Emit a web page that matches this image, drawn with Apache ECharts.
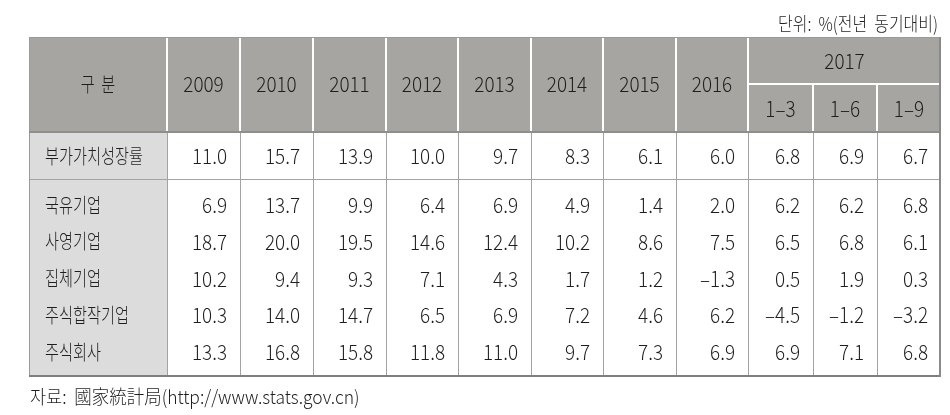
<!DOCTYPE html>
<html>
<head>
<meta charset="utf-8">
<script src="https://cdn.jsdelivr.net/npm/echarts@6/dist/echarts.min.js"></script>
<style>
html, body { margin: 0; background: #fff; }
#chart { width: 950px; height: 415px; }
</style>
</head>
<body>
<div id="chart"></div>
<script>
// 표 데이터
var years = ['2009', '2010', '2011', '2012', '2013', '2014', '2015', '2016']
var quarterYear = '2017'
var quarters = ['1–3', '1–6', '1–9']
var rowNames = ['부가가치성장률', '국유기업', '사영기업', '집체기업', '주식합작기업', '주식회사']
var growth = [11.0, 15.7, 13.9, 10.0, 9.7, 8.3, 6.1, 6.0, 6.8, 6.9, 6.7]
var stateOwned = [6.9, 13.7, 9.9, 6.4, 6.9, 4.9, 1.4, 2.0, 6.2, 6.2, 6.8]
var privateEnt = [18.7, 20.0, 19.5, 14.6, 12.4, 10.2, 8.6, 7.5, 6.5, 6.8, 6.1]
var collective = [10.2, 9.4, 9.3, 7.1, 4.3, 1.7, 1.2, -1.3, 0.5, 1.9, 0.3]
var jointStock = [10.3, 14.0, 14.7, 6.5, 6.9, 7.2, 4.6, 6.2, -4.5, -1.2, -3.2]
var shareholding = [13.3, 16.8, 15.8, 11.8, 11.0, 9.7, 7.3, 6.9, 6.9, 7.1, 6.8]
var unitText = '단위:  %(전년  동기대비)'
var sourceText = '자료:  國家統計局(http://www.stats.gov.cn)'

var rows = [growth, stateOwned, privateEnt, collective, jointStock, shareholding]

// 레이아웃 (px 단위 축)
var colW = [138, 73, 73, 73, 72, 73, 72, 73, 72, 65, 64, 64]
var colX = [0]
colW.forEach(function (w, i) { colX.push(colX[i] + w) })
var tableW = colX[colX.length - 1]
var tableH = 340
var headSplit = 47
var headBottom = 95
var growthBottom = 142
var groupFirst = 168
var groupStep = 36.8

var FONT = 'Noto Sans CJK KR'
var TEXT_COLOR = '#1e1e1e'

function fmt (v) {
  return v.toFixed(1).replace('-', '–')
}

// 셀 목록
var cells = []
cells.push({ x0: 0, x1: colX[1], yc: headBottom / 2, text: '구  분', align: 'center', kind: 'ko' })
years.forEach(function (y, i) {
  cells.push({ x0: colX[i + 1], x1: colX[i + 2], yc: headBottom / 2, text: y, align: 'center', kind: 'num' })
})
cells.push({ x0: colX[9], x1: tableW, yc: headSplit / 2 + 1, text: quarterYear, align: 'center', kind: 'num' })
quarters.forEach(function (q, j) {
  cells.push({ x0: colX[9 + j], x1: colX[10 + j], yc: (headSplit + headBottom) / 2 + 1, text: q, align: 'center', kind: 'num' })
})
rows.forEach(function (vals, r) {
  var yc = r === 0 ? (headBottom + growthBottom) / 2 + 1 : groupFirst + (r - 1) * groupStep
  cells.push({ x0: 0, x1: colX[1], yc: yc, text: rowNames[r], align: 'left', kind: 'ko' })
  vals.forEach(function (v, c) {
    cells.push({ x0: colX[c + 1], x1: colX[c + 2], yc: yc, text: fmt(v), align: 'right', kind: 'num' })
  })
})

function renderFrame (params, api) {
  function R (x0, y0, x1, y1, color) {
    var a = api.coord([x0, y0])
    var b = api.coord([x1, y1])
    return { type: 'rect', shape: { x: a[0], y: a[1], width: b[0] - a[0], height: b[1] - a[1] }, style: { fill: color } }
  }
  var ch = []
  ch.push(R(0, 0, tableW, tableH, '#ffffff'))
  ch.push(R(0, 0, tableW, headBottom, '#a6a5a1'))
  ch.push(R(0, headBottom, colX[1], tableH, '#dcdcdc'))
  // 헤더 흰색 구분선
  for (var i = 1; i <= 9; i++) ch.push(R(colX[i] - 1, 1, colX[i] + 1, headBottom, '#ffffff'))
  for (var k = 10; k <= 11; k++) ch.push(R(colX[k] - 1, headSplit, colX[k] + 1, headBottom, '#ffffff'))
  ch.push(R(colX[9], headSplit - 1, tableW, headSplit + 1, '#ffffff'))
  // 본문 세로선
  for (var j = 1; j <= 11; j++) ch.push(R(colX[j], headBottom, colX[j] + 1, tableH, '#a3a3a3'))
  ch.push(R(0, growthBottom, tableW, growthBottom + 1, '#a3a3a3'))
  // 테두리
  ch.push(R(0, 0, tableW, 1, '#9a9a9a'))
  ch.push(R(0, 0, 1, tableH, '#9a9a9a'))
  ch.push(R(0, headBottom - 1, tableW, headBottom + 1, '#8e8e8e'))
  ch.push(R(0, tableH - 2, tableW, tableH, '#7f7f7f'))
  ch.push(R(tableW - 2, 0, tableW, tableH, '#8a8a8a'))
  return { type: 'group', children: ch }
}

function renderCell (params, api) {
  var c = cells[params.dataIndex]
  var x
  if (c.align === 'center') x = (c.x0 + c.x1) / 2
  else if (c.align === 'left') x = c.x0 + 16
  else x = c.x1 - 13
  var p = api.coord([x, c.yc])
  var ko = c.kind === 'ko'
  return {
    type: 'text',
    x: p[0],
    y: p[1],
    scaleX: ko ? 0.76 : 0.9,
    style: {
      text: c.text,
      fontFamily: FONT,
      fontSize: ko ? 20 : 21,
      fontWeight: 300,
      fill: TEXT_COLOR,
      align: c.align,
      verticalAlign: 'middle'
    }
  }
}

var myChart = echarts.init(document.getElementById('chart'))
var option = {
  animation: false,
  grid: { left: 29, top: 37, width: tableW, height: tableH },
  xAxis: { type: 'value', min: 0, max: tableW, show: false },
  yAxis: { type: 'value', min: 0, max: tableH, inverse: true, show: false },
  graphic: [
    { type: 'text', x: 938, y: 24, scaleX: 0.84, style: { text: unitText, fontFamily: FONT, fontSize: 19, fontWeight: 300, fill: TEXT_COLOR, align: 'right', verticalAlign: 'middle' } },
    { type: 'text', x: 30, y: 397, scaleX: 0.92, style: { text: sourceText, fontFamily: FONT, fontSize: 19, fontWeight: 300, fill: TEXT_COLOR, align: 'left', verticalAlign: 'middle' } }
  ],
  series: [
    { type: 'custom', renderItem: renderFrame, data: [[0, 0]], silent: true, clip: false },
    { type: 'custom', renderItem: renderCell, data: cells.map(function (c) { return [c.x0, c.yc] }), silent: true, clip: false }
  ]
}
myChart.setOption(option)
</script>
</body>
</html>
